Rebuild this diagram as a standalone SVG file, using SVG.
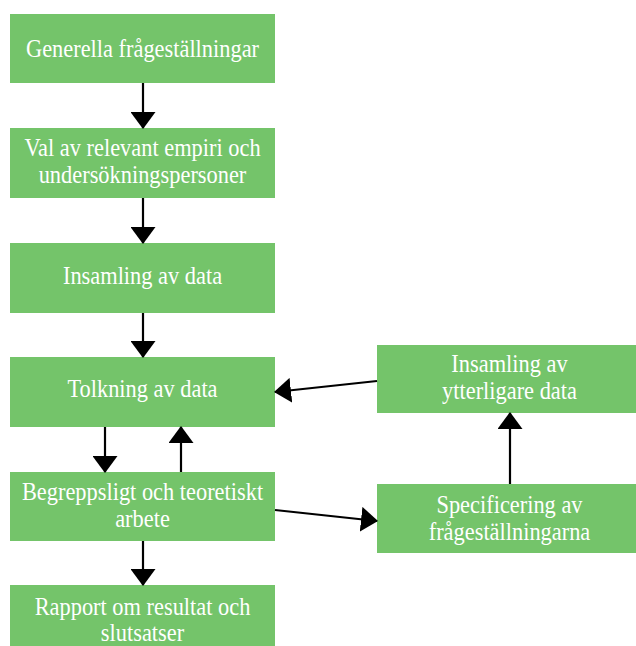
<svg xmlns="http://www.w3.org/2000/svg" width="636" height="646" viewBox="0 0 636 646">
<style>
.box{fill:#74C46A;}
.c{stroke:#000;stroke-width:2.2;fill:none;marker-end:url(#ah);}
</style>
<defs>
<marker id="ah" viewBox="0 0 17 25" markerWidth="17" markerHeight="25" refX="16" refY="12.5" orient="auto" markerUnits="userSpaceOnUse">
<path d="M0,0 L17,12.5 L0,25 z" fill="#000"/>
</marker>
</defs>
<rect width="636" height="646" fill="#FFFFFF"/>
<g font-family="Liberation Serif, DejaVu Serif, serif" font-size="22.4" fill="#FFFFFF" text-anchor="middle">
<g id="n1"><rect class="box" x="10" y="14" width="265" height="69"/><text transform="translate(142.5,57) scale(1,1.1)">Generella frågeställningar</text></g>
<g id="n2"><rect class="box" x="10" y="128" width="265" height="70"/><text transform="translate(142.5,156) scale(1,1.1)">Val av relevant empiri och</text><text transform="translate(142.5,183) scale(1,1.1)">undersökningspersoner</text></g>
<g id="n3"><rect class="box" x="10" y="243" width="265" height="70"/><text transform="translate(142.5,283.5) scale(1,1.1)">Insamling av data</text></g>
<g id="n4"><rect class="box" x="10" y="357" width="265" height="70"/><text transform="translate(142.5,397) scale(1,1.1)">Tolkning av data</text></g>
<g id="n5"><rect class="box" x="10" y="472" width="265" height="69"/><text transform="translate(142.5,500) scale(1,1.1)">Begreppsligt och teoretiskt</text><text transform="translate(142.5,527) scale(1,1.1)">arbete</text></g>
<g id="n6"><rect class="box" x="10" y="585" width="265" height="69"/><text transform="translate(142.5,615) scale(1,1.1)">Rapport om resultat och</text><text transform="translate(142.5,641) scale(1,1.1)">slutsatser</text></g>
<g id="n7"><rect class="box" x="377" y="345" width="265" height="68"/><text transform="translate(509.5,372) scale(1,1.1)">Insamling av</text><text transform="translate(509.5,398.5) scale(1,1.1)">ytterligare data</text></g>
<g id="n8"><rect class="box" x="377" y="484" width="265" height="69"/><text transform="translate(509.5,513) scale(1,1.1)">Specificering av</text><text transform="translate(509.5,539.5) scale(1,1.1)">frågeställningarna</text></g>
</g>
<g id="connectors">
<path class="c" d="M143,83 L143,128"/>
<path class="c" d="M143,198 L143,243"/>
<path class="c" d="M143,313 L143,357"/>
<path class="c" d="M105,427 L105,472"/>
<path class="c" d="M181,472 L181,427"/>
<path class="c" d="M143,541 L143,585"/>
<path class="c" d="M377,381 L275,392"/>
<path class="c" d="M275,510 L377,521"/>
<path class="c" d="M510,484 L510,413"/>
</g>
</svg>
